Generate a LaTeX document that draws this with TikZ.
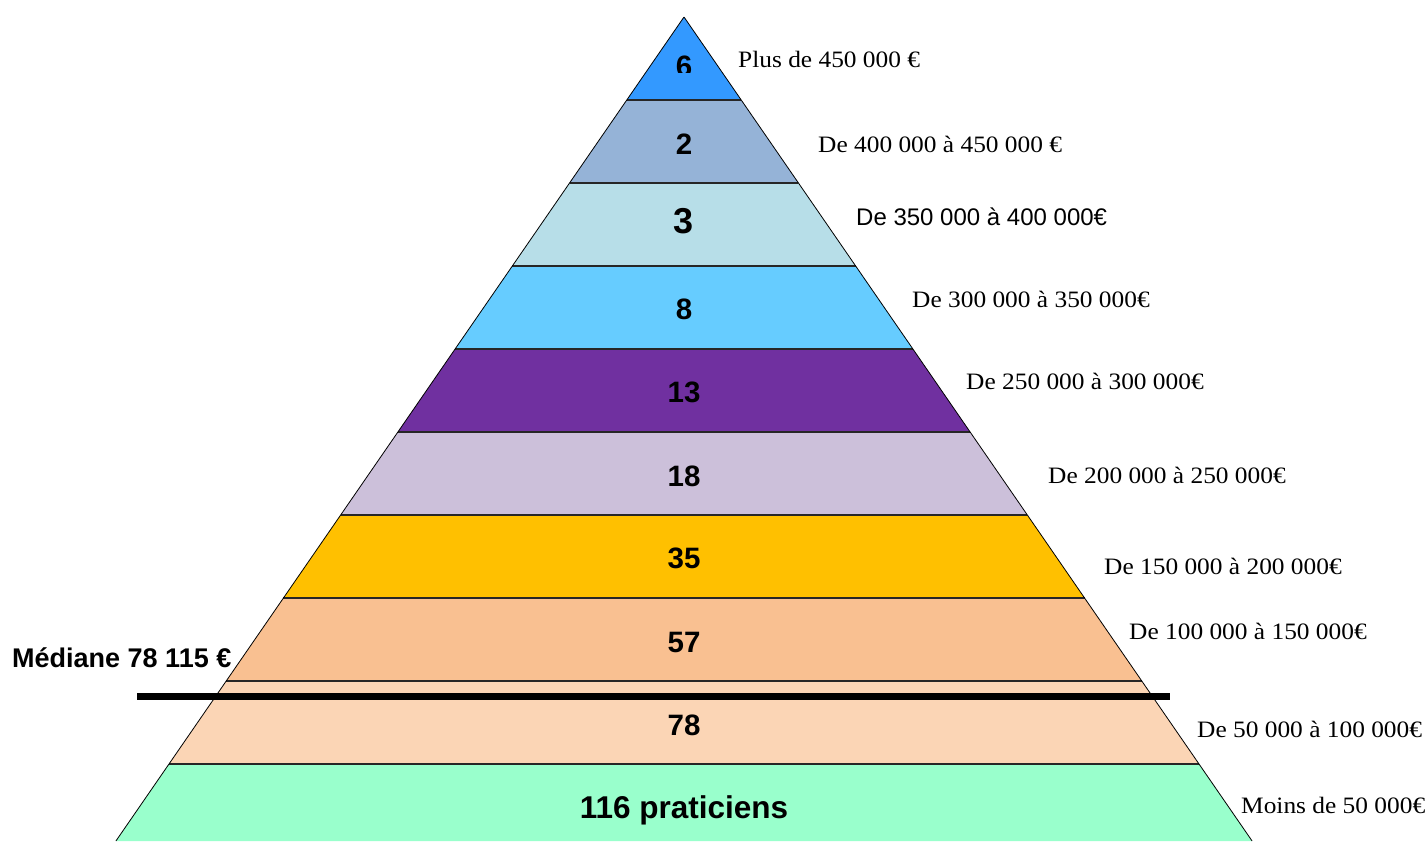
\documentclass[tikz,border=0pt]{standalone}
\usepackage{fontspec}
\setmainfont{Liberation Serif}[FakeStretch=1.08]
\setsansfont{Liberation Sans}

\definecolor{csix}{HTML}{3399FF}
\definecolor{ctwo}{HTML}{95B3D7}
\definecolor{cthree}{HTML}{B7DEE8}
\definecolor{ceight}{HTML}{66CCFF}
\definecolor{cthirteen}{HTML}{7030A0}
\definecolor{ceighteen}{HTML}{CCC0DA}
\definecolor{cthirtyfive}{HTML}{FFC000}
\definecolor{cfiftyseven}{HTML}{F9C091}
\definecolor{cseventyeight}{HTML}{FBD5B5}
\definecolor{chundred}{HTML}{99FFCC}

\tikzset{
  nb/.style={font=\sffamily\bfseries\fontsize{29.5}{32}\selectfont, anchor=base, inner sep=0pt},
  tranche/.style={font=\fontsize{23.5}{26}\selectfont, anchor=base west, inner sep=0pt},
}

\begin{document}
\begin{tikzpicture}[x=1pt, y=-1pt]

  \useasboundingbox (0,0) rectangle (1427,841);
  \clip (0,0) rectangle (1427,841);

  % bandes de la pyramide
  \foreach \ya/\yb/\col in {17/100/csix, 100/183/ctwo, 183/266/cthree,
      266/349/ceight, 349/432/cthirteen, 432/515/ceighteen,
      515/598/cthirtyfive, 598/681/cfiftyseven, 681/764/cseventyeight,
      764/841/chundred}
    \fill[\col] ({684-0.6894*(\ya-17)},\ya) -- ({684+0.6894*(\ya-17)},\ya)
      -- ({684+0.6894*(\yb-17)},\yb) -- ({684-0.6894*(\yb-17)},\yb) -- cycle;

  \foreach \y in {100,183,...,764}
    \draw[line width=1.8pt, black!85] ({684-0.6894*(\y-17)},\y) -- ({684+0.6894*(\y-17)},\y);

  \begin{scope}[line width=0.8pt]
    \draw (684,17) -- (115.9,841);
    \draw (684,17) -- (1252.1,841);
  \end{scope}

  % mediane
  \draw[line width=7pt] (137,696) -- (1170,696);
  \node[anchor=base west, inner sep=0pt, font=\sffamily\bfseries\fontsize{27}{30}\selectfont]
    (mediane) at (12,667) {Médiane 78 115 €};

  % effectifs
  \begin{scope}
    \clip (600,0) rectangle (770,72);
    \node[nb] (n6) at (684,76) {6};
  \end{scope}
  \node[nb] (n2) at (684,154) {2};
  \node[nb, font=\sffamily\bfseries\fontsize{36}{38}\selectfont] (n3) at (684,233) {3};
  \node[nb] (n8) at (684,319) {8};
  \node[nb] (n13) at (684,402) {13};
  \node[nb] (n18) at (684,486) {18};
  \node[nb] (n35) at (684,568) {35};
  \node[nb] (n57) at (684,652) {57};
  \node[nb] (n78) at (684,735) {78};
  \node[nb, font=\sffamily\bfseries\fontsize{31.5}{33}\selectfont] (n116) at (684,818) {116 praticiens};

  % tranches de revenus
  \node[tranche] (t6) at (738,67) {Plus de 450 000 €};
  \node[tranche] (t2) at (818,152) {De 400 000 à 450 000 €};
  \node[tranche, font=\sffamily\fontsize{24}{26}\selectfont] (t3) at (856,225) {De 350 000 à 400 000€};
  \node[tranche] (t8) at (912,307) {De 300 000 à 350 000€};
  \node[tranche] (t13) at (966,389) {De 250 000 à 300 000€};
  \node[tranche] (t18) at (1048,483) {De 200 000 à 250 000€};
  \node[tranche] (t35) at (1104,574) {De 150 000 à 200 000€};
  \node[tranche] (t57) at (1129,639) {De 100 000 à 150 000€};
  \node[tranche] (t78) at (1197,737) {De 50 000 à 100 000€};
  \node[tranche] (t116) at (1241,813) {Moins de 50 000€};
\end{tikzpicture}
\end{document}
